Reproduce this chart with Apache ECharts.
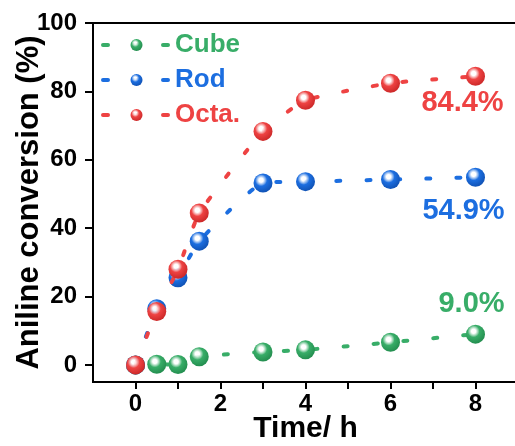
<!DOCTYPE html>
<html>
<head>
<meta charset="utf-8">
<script src="https://cdn.jsdelivr.net/npm/echarts@6/dist/echarts.min.js"></script>
<style>
html,body{margin:0;padding:0;background:#fff;}
#chart{width:515px;height:446px;}
</style>
</head>
<body>
<div id="chart"></div>
<script>
var times = [0, 0.5, 1, 1.5, 3, 4, 6, 8];
var seriesNames = ['Cube', 'Rod', 'Octa.'];
var cubeValues = [0, 0.2, 0.1, 2.4, 3.8, 4.4, 6.6, 9.0];
var rodValues = [0, 16.4, 25.5, 36.2, 53.2, 53.6, 54.2, 54.9];
var octaValues = [0, 15.6, 28.0, 44.4, 68.3, 77.4, 82.4, 84.4];
var endLabels = ['9.0%', '54.9%', '84.4%'];
var xLabelValues = [0, 2, 4, 6, 8];
var xTickValues = [0, 1, 2, 3, 4, 5, 6, 7, 8];
var yLabelValues = [0, 20, 40, 60, 80, 100];

var colors = ['#38ad68', '#1c6ee0', '#ee4343'];
var darkColors = ['#218a4c', '#0f4fb0', '#c82525'];
var labelOffsets = [[-4, -30], [-12, 34], [-13, 27]];
var allValues = [cubeValues, rodValues, octaValues];
var FONT = 'Liberation Sans, Arial, Helvetica, sans-serif';

function sphere(i) {
  return {
    type: 'radial', x: 0.4, y: 0.35, r: 0.7,
    colorStops: [
      {offset: 0, color: '#ffffff'},
      {offset: 0.16, color: 'rgba(255,255,255,0.85)'},
      {offset: 0.45, color: colors[i]},
      {offset: 1, color: darkColors[i]}
    ]
  };
}

var series = seriesNames.map(function (name, i) {
  var vals = allValues[i];
  var data = times.map(function (t, k) {
    var item = {value: [t, vals[k]]};
    if (k === times.length - 1) {
      item.label = {
        show: true,
        position: 'inside',
        offset: labelOffsets[i],
        formatter: endLabels[i],
        color: colors[i],
        fontSize: 29,
        fontWeight: 'bold',
        fontFamily: FONT
      };
    }
    return item;
  });
  return {
    name: name,
    type: 'line',
    data: data,
    smooth: 0.15,
    symbol: 'circle',
    symbolSize: 19,
    itemStyle: {color: sphere(i), borderWidth: 0},
    lineStyle: {color: colors[i], width: 4, type: [4, 26], cap: 'round'},
    emphasis: {disabled: true},
    animation: false,
    z: 2 + i
  };
});

var chart = echarts.init(document.getElementById('chart'), null, {renderer: 'canvas'});
chart.setOption({
  backgroundColor: '#ffffff',
  animation: false,
  grid: {
    left: 93, right: -3, top: 23, bottom: 64,
    containLabel: false,
    outerBoundsMode: 'none',
    show: true, borderColor: '#000', borderWidth: 2, backgroundColor: 'transparent'
  },
  legend: {
    orient: 'vertical',
    left: 96,
    top: 27,
    itemWidth: 67,
    itemHeight: 15,
    itemGap: 9,
    lineStyle: {width: 4, type: [5, 25], cap: 'round'},
    textStyle: {fontSize: 26, fontWeight: 'bold', fontFamily: FONT},
    data: seriesNames.map(function (n, i) {
      return {name: n, textStyle: {color: colors[i]}};
    })
  },
  xAxis: {
    type: 'value',
    min: -1,
    max: 9,
    name: 'Time/ h',
    nameLocation: 'middle',
    nameGap: 32,
    nameMoveOverlap: false,
    nameTextStyle: {fontSize: 30, fontWeight: 'bold', color: '#000', fontFamily: FONT},
    axisLine: {show: true, onZero: false, lineStyle: {color: '#000', width: 2}},
    axisTick: {show: true, inside: false, length: 7, lineStyle: {color: '#000', width: 2}, customValues: xTickValues},
    axisLabel: {customValues: xLabelValues, fontSize: 24, fontWeight: 'bold', color: '#000', margin: 10, fontFamily: FONT},
    splitLine: {show: false}
  },
  yAxis: {
    type: 'value',
    min: -5,
    max: 100,
    name: 'Aniline conversion (%)',
    nameLocation: 'middle',
    nameGap: 48,
    nameMoveOverlap: false,
    nameTextStyle: {fontSize: 31, fontWeight: 'bold', color: '#000', fontFamily: FONT},
    axisLine: {show: true, onZero: false, lineStyle: {color: '#000', width: 2}},
    axisTick: {show: true, inside: false, length: 8, lineStyle: {color: '#000', width: 2}, customValues: yLabelValues},
    axisLabel: {customValues: yLabelValues, fontSize: 24, fontWeight: 'bold', color: '#000', margin: 16, fontFamily: FONT},
    splitLine: {show: false}
  },
  series: series
});
</script>
</body>
</html>
